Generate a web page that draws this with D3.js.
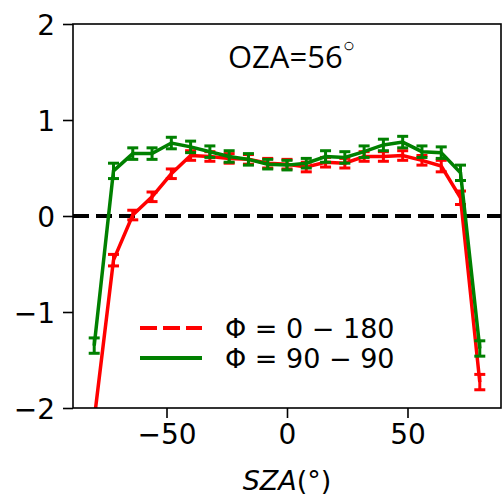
<!DOCTYPE html>
<html>
<head>
<meta charset="utf-8">
<script src="https://cdn.jsdelivr.net/npm/d3@7"></script>
<style>
  body { margin: 0; background: #fff; }
  svg { display: block; }
  text { font-family: "DejaVu Sans", sans-serif; fill: #000; }
</style>
</head>
<body>
<div id="chart"></div>
<script>
// SZA sample positions (degrees)
var sza = [-80, -72, -64, -56, -48, -40, -32, -24, -16, -8, 0, 8, 16, 24, 32, 40, 48, 56, 64, 72, 80];

// Phi = 0 - 180 (red)
var redVals = [-2.12, -0.46, 0.01, 0.2, 0.44, 0.63, 0.62, 0.6, 0.59, 0.55, 0.54, 0.51, 0.56, 0.55, 0.62, 0.62, 0.63, 0.58, 0.52, 0.19, -1.73];
var redErr  = [0.07, 0.06, 0.05, 0.05, 0.05, 0.05, 0.05, 0.05, 0.05, 0.05, 0.05, 0.05, 0.05, 0.05, 0.05, 0.05, 0.05, 0.05, 0.06, 0.07, 0.08];

// Phi = 90 - 90 (green)
var greenVals = [-1.35, 0.47, 0.65, 0.65, 0.76, 0.72, 0.67, 0.62, 0.59, 0.54, 0.53, 0.55, 0.62, 0.61, 0.67, 0.74, 0.77, 0.67, 0.66, 0.45, -1.38];
var greenErr  = [0.08, 0.08, 0.06, 0.06, 0.06, 0.06, 0.06, 0.06, 0.06, 0.05, 0.05, 0.05, 0.06, 0.06, 0.06, 0.06, 0.06, 0.06, 0.06, 0.08, 0.08];

var xTicks = [-50, 0, 50];
var yTicks = [-2, -1, 0, 1, 2];
var legendLabels = ["\u03A6 = 0 \u2212 180", "\u03A6 = 90 \u2212 90"];

var width = 503, height = 496;
var margin = {top: 24, right: 2, bottom: 88, left: 73};
var chartW = width - margin.left - margin.right;
var chartH = height - margin.top - margin.bottom;

var xScale = d3.scaleLinear().domain([-88.8, 88.8]).range([0, chartW]);
var yScale = d3.scaleLinear().domain([-2, 2]).range([chartH, 0]);

var svg = d3.select("#chart").append("svg")
  .attr("width", width)
  .attr("height", height);

svg.append("defs").append("clipPath")
  .attr("id", "plot-clip")
  .append("rect")
    .attr("width", chartW)
    .attr("height", chartH);

var container = svg.append("g")
  .attr("transform", "translate(" + margin.left + "," + margin.top + ")");

// axes
var fmt = function(d) { return d < 0 ? "\u2212" + Math.abs(d) : d; };

var xAxis = d3.axisBottom(xScale).tickValues(xTicks).tickFormat(fmt).tickSize(10).tickPadding(6);
var yAxis = d3.axisLeft(yScale).tickValues(yTicks).tickFormat(fmt).tickSize(10).tickPadding(8);

var gx = container.append("g")
  .attr("transform", "translate(0," + chartH + ")")
  .call(xAxis);
var gy = container.append("g").call(yAxis);

[gx, gy].forEach(function(g) {
  g.select(".domain").remove();
  g.selectAll("line").attr("stroke", "#000").attr("stroke-width", 1.6);
  g.selectAll("text").style("font-size", "28px").style("font-family", "DejaVu Sans, sans-serif").attr("fill", "#222");
});
gy.selectAll("text").attr("dy", "0.36em");

// zero line
container.append("line")
  .attr("x1", 0).attr("x2", chartW)
  .attr("y1", yScale(0)).attr("y2", yScale(0))
  .attr("stroke", "#000")
  .attr("stroke-width", 4)
  .attr("stroke-dasharray", "16,7");

var plot = container.append("g").attr("clip-path", "url(#plot-clip)");

var series = [
  {name: "red", color: "#ff0000", vals: redVals, err: redErr},
  {name: "green", color: "#008000", vals: greenVals, err: greenErr}
];

var line = d3.line()
  .x(function(d) { return xScale(d.x); })
  .y(function(d) { return yScale(d.y); });

series.forEach(function(s) {
  var pts = sza.map(function(x, i) { return {x: x, y: s.vals[i], e: s.err[i]}; });

  plot.append("path")
    .datum(pts)
    .attr("fill", "none")
    .attr("stroke", s.color)
    .attr("stroke-width", 3.5)
    .attr("d", line);

  var bars = plot.append("g").selectAll("g").data(pts).enter().append("g")
    .attr("stroke", s.color)
    .attr("stroke-width", 3);

  bars.append("line")
    .attr("x1", function(d) { return xScale(d.x); })
    .attr("x2", function(d) { return xScale(d.x); })
    .attr("y1", function(d) { return yScale(d.y - d.e); })
    .attr("y2", function(d) { return yScale(d.y + d.e); });

  [-1, 1].forEach(function(sign) {
    bars.append("line")
      .attr("x1", function(d) { return xScale(d.x) - 5.5; })
      .attr("x2", function(d) { return xScale(d.x) + 5.5; })
      .attr("y1", function(d) { return yScale(d.y + sign * d.e); })
      .attr("y2", function(d) { return yScale(d.y + sign * d.e); });
  });
});

// frame
container.append("rect")
  .attr("width", chartW)
  .attr("height", chartH)
  .attr("fill", "none")
  .attr("stroke", "#000")
  .attr("stroke-width", 1.6);

// legend
var legend = container.append("g").attr("transform", "translate(67,304)");
var legendStyles = [
  {color: "#ff0000", dash: "17,6"},
  {color: "#008000", dash: null}
];
legendStyles.forEach(function(st, i) {
  var row = legend.append("g").attr("transform", "translate(0," + (i * 30) + ")");
  row.append("line")
    .attr("x1", 0).attr("x2", 62)
    .attr("stroke", st.color)
    .attr("stroke-width", 4)
    .attr("stroke-dasharray", st.dash);
  row.append("text")
    .attr("x", 85)
    .attr("dy", "0.36em")
    .style("font-size", "27px")
    .attr("fill", "#222")
    .text(legendLabels[i]);
});

// title inside plot
var title = svg.append("text")
  .attr("x", 228)
  .attr("y", 68)
  .style("font-family", "Open Sans, sans-serif")
  .style("font-size", "31px");
title.append("tspan").text("OZA=56");
title.append("tspan")
  .attr("dy", -16)
  .style("font-size", "20px")
  .text("\u25CB");

// x axis label
var xl = svg.append("text")
  .attr("x", margin.left + xScale(0))
  .attr("y", 490)
  .attr("text-anchor", "middle")
  .style("font-size", "27px")
  .attr("fill", "#222");
xl.append("tspan").style("font-style", "italic").text("SZA");
xl.append("tspan").text("(\u00B0)");
</script>
</body>
</html>
